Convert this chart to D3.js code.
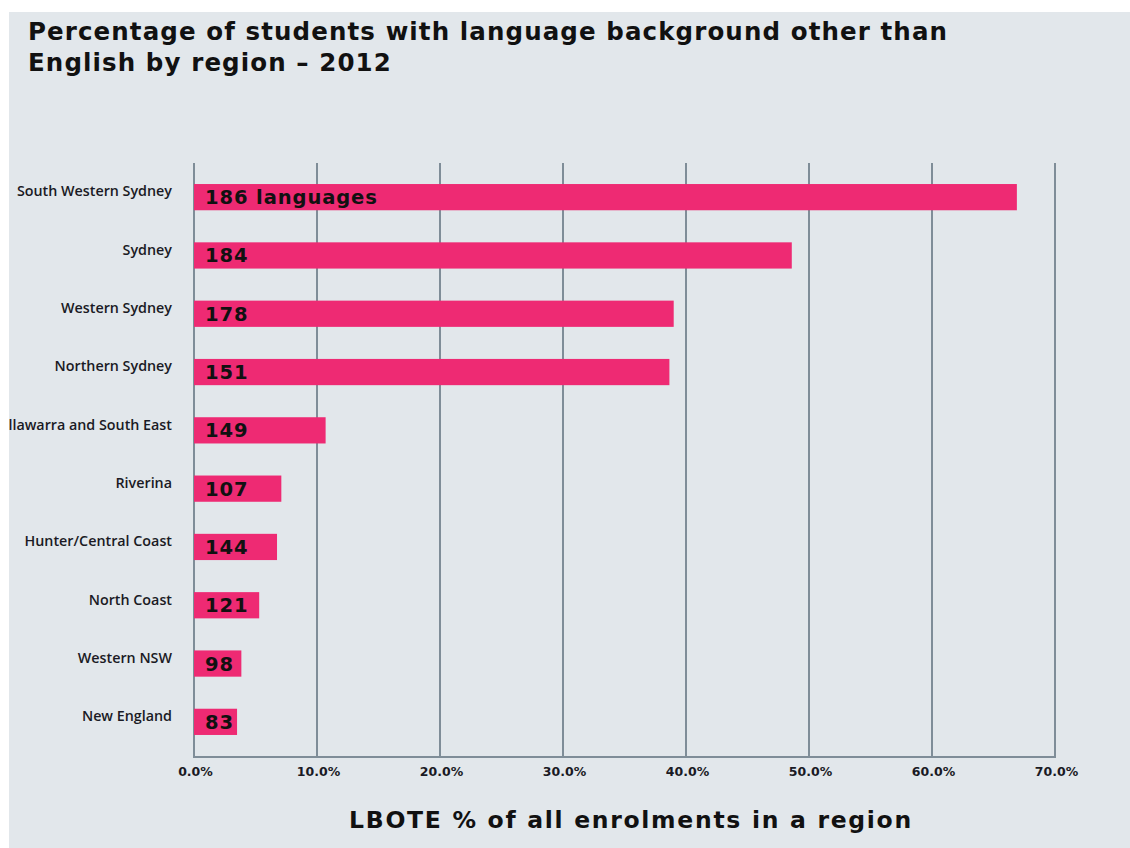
<!DOCTYPE html>
<html><head><meta charset="utf-8">
<script src="https://cdn.jsdelivr.net/npm/d3@7"></script>
<style>html,body{margin:0;padding:0;background:#fff;}svg{display:block;}</style>
</head><body>
<script>
const regions = ["South Western Sydney","Sydney","Western Sydney","Northern Sydney","Illawarra and South East","Riverina","Hunter/Central Coast","North Coast","Western NSW","New England"];
const lbotePercent = [66.9, 48.6, 39.0, 38.65, 10.7, 7.1, 6.75, 5.3, 3.85, 3.5];
const languageLabels = ["186 languages","184","178","151","149","107","144","121","98","83"];
const tickValues = [0,10,20,30,40,50,60,70];
const titleLines = ["Percentage of students with language background other than","English by region \u2013 2012"];
const axisTitle = "LBOTE % of all enrolments in a region";

const W = 1130, H = 848;
const svg = d3.select("body").append("svg").attr("width", W).attr("height", H);
const boldFont = "'DejaVu Sans', sans-serif";
const labelFont = "'Open Sans', sans-serif";

svg.append("rect").attr("x",9).attr("y",12).attr("width",W-9).attr("height",H-12).attr("fill","#e2e7eb");

const x = d3.scaleLinear().domain([0,70]).range([194,1055]);
const y = d3.scaleBand().domain(regions).range([168,751]).paddingInner(0.55).paddingOuter(0.275);
const gridTop = 163, gridBottom = 757;

// title
svg.append("g").selectAll("text").data(titleLines).join("text")
  .attr("x",28).attr("y",(d,i)=>40+i*31)
  .attr("font-family",boldFont).attr("font-weight",700).attr("font-size",24.5)
  .attr("letter-spacing",1.1)
  .attr("fill","#111").text(d=>d);

// gridlines
svg.append("g").selectAll("line").data(tickValues).join("line")
  .attr("x1",d=>x(d)).attr("x2",d=>x(d)).attr("y1",gridTop).attr("y2",gridBottom)
  .attr("stroke","#7f8d98").attr("stroke-width",2);
svg.append("line").attr("x1",x(0)-1).attr("x2",x(70)+1).attr("y1",gridBottom).attr("y2",gridBottom)
  .attr("stroke","#7f8d98").attr("stroke-width",2);

// x axis tick labels
const xAxis = d3.axisBottom(x).tickValues(tickValues).tickSize(0).tickPadding(0)
  .tickFormat(d=>d3.format(".1f")(d)+"%");
const gx = svg.append("g").attr("transform",`translate(0,${gridBottom+19})`).call(xAxis);
gx.select(".domain").remove();
gx.selectAll("text").attr("font-family",boldFont).attr("font-weight",700).attr("font-size",12.5)
  .attr("fill","#1a1a24").attr("dy",0).attr("dx",1);

// bars
svg.append("g").selectAll("rect").data(regions).join("rect")
  .attr("x",x(0)).attr("y",d=>y(d)).attr("height",y.bandwidth())
  .attr("width",(d,i)=>x(lbotePercent[i])-x(0))
  .attr("fill","#ee2a73");

// bar labels
svg.append("g").selectAll("text").data(regions).join("text")
  .attr("x",x(0)+11).attr("y",d=>y(d)+y.bandwidth()/2+7)
  .attr("font-family",boldFont).attr("font-weight",700).attr("font-size",19.5)
  .attr("letter-spacing",0.9)
  .attr("fill","#111").text((d,i)=>languageLabels[i]);

// region labels (y axis)
const yAxis = d3.axisLeft(y).tickSize(0).tickPadding(0);
const gy = svg.append("g").attr("transform","translate(172,0)").call(yAxis);
gy.select(".domain").remove();
gy.selectAll("text").attr("font-family",labelFont).attr("font-weight",600).attr("font-size",14.3)
  .attr("fill","#1a1a24").attr("dy","-0.05em");

// axis title
svg.append("text").attr("x",631).attr("y",828).attr("text-anchor","middle")
  .attr("font-family",boldFont).attr("font-weight",700).attr("font-size",23.5)
  .attr("letter-spacing",1.7)
  .attr("fill","#111").text(axisTitle);

// white margins framing the panel
svg.append("rect").attr("x",0).attr("y",0).attr("width",9).attr("height",H).attr("fill","#fff");
svg.append("rect").attr("x",0).attr("y",0).attr("width",W).attr("height",12).attr("fill","#fff");
</script>
</body></html>
